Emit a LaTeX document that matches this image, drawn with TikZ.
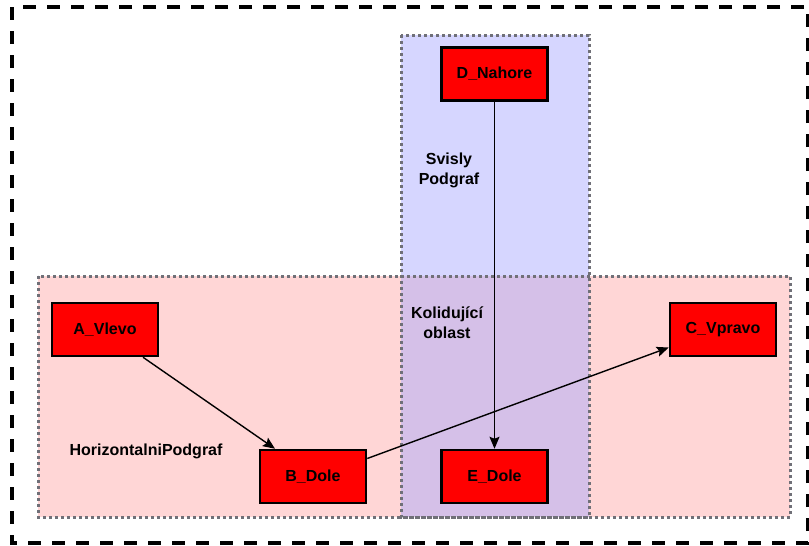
\documentclass[tikz,border=0pt]{standalone}
\usepackage{fontspec}
\setmainfont{Liberation Sans}
\usetikzlibrary{arrows.meta}
\definecolor{pinkbg}{RGB}{255,214,214}
\definecolor{bluebg}{RGB}{214,214,255}
\definecolor{overlapbg}{RGB}{213,192,232}
\definecolor{dotgray}{RGB}{112,112,120}
\tikzset{
  redbox/.style={draw=black, line width=2.5pt, fill=red, minimum width=106pt, minimum height=53pt, inner sep=0pt, font=\fontsize{16pt}{20pt}\selectfont\bfseries},
  clusterline/.style={draw=dotgray, line width=3pt, dash pattern=on 3pt off 3pt},
  outerline/.style={draw=black, line width=4pt, dash pattern=on 13pt off 11pt},
  lbl/.style={font=\fontsize{16pt}{20pt}\selectfont\bfseries, align=center, inner sep=0pt},
  edge/.style={draw=black, line width=1.4pt, -{Stealth[length=12pt,width=10pt,inset=2pt]}}
}
\begin{document}
\begin{tikzpicture}[x=1pt,y=-1pt]
\useasboundingbox (0,0) rectangle (809,546);
% outer dashed frame
\draw[outerline] (12,7) rectangle (808,543);
% cluster fills
\fill[pinkbg] (38,276) rectangle (790,517);
\fill[bluebg] (401,35) rectangle (589,517);
\fill[overlapbg] (401,276) rectangle (589,517);
% cluster borders
\draw[clusterline] (38,276) rectangle (790,517);
\draw[clusterline] (401,35) rectangle (589,517);
% labels
\node[lbl] (svisly) at (449,170) {Svisly\\Podgraf};
\node[lbl] (kolid) at (447,323) {Kolidující\\oblast};
\node[lbl] (horiz) at (146,451) {HorizontalniPodgraf};
% nodes
\node[redbox] (D) at (494.5,74) {D\_Nahore};
\node[redbox] (A) at (105,329.5) {A\_Vlevo};
\node[redbox] (C) at (723,329.5) {C\_Vpravo};
\node[redbox] (B) at (313,476.5) {B\_Dole};
\node[redbox] (E) at (494.5,476.5) {E\_Dole};
% edge end points
\path (A.south) ++(38,0) coordinate (a1);
\path (B.north) ++(-38,0) coordinate (b0);
\path (B.east) ++(0,-18) coordinate (b1);
\path (C.west) ++(0,18) coordinate (c1);
% edges
\draw[edge] (a1) -- (b0);
\draw[edge] (D) -- (E);
\draw[edge] (b1) -- (c1);
\end{tikzpicture}
\end{document}
